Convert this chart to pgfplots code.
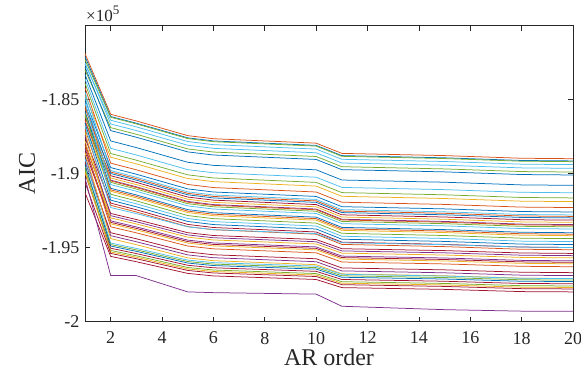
\documentclass[border=0pt]{standalone}
\usepackage{fontspec}
\setmainfont{Liberation Serif}
\usepackage{pgfplots}
\pgfplotsset{compat=1.18}
\definecolor{mB}{RGB}{0,114,189}
\definecolor{mO}{RGB}{217,83,25}
\definecolor{mY}{RGB}{237,177,32}
\definecolor{mP}{RGB}{126,47,142}
\definecolor{mG}{RGB}{119,172,48}
\definecolor{mC}{RGB}{77,190,238}
\definecolor{mR}{RGB}{162,20,47}
\definecolor{axgray}{RGB}{38,38,38}
\begin{document}
\begin{tikzpicture}
\begin{axis}[
  at={(0,0)}, anchor=south west,
  width=488pt, height=296pt, scale only axis,
  xmin=1, xmax=20, ymin=-200000, ymax=-180000,
  xtick={2,4,...,20},
  ytick={-200000,-195000,-190000,-185000},
  scaled y ticks=base 10:-5,
  ytick scale label code/.code={},
  /pgf/number format/assume math mode=true,
  yticklabel style={/pgf/number format/precision=2, xshift=-2pt},
  xticklabel style={yshift=-7pt},
  tick align=inside, tick pos=both,
  xticklabel pos=lower, yticklabel pos=left,
  major tick length=5pt,
  axis line style={axgray, line width=0.6pt},
  every tick/.style={axgray, line width=0.6pt},
  tick label style={font=\fontsize{18}{20}\selectfont, text=axgray},
  label style={font=\fontsize{24}{28}\selectfont, text=axgray},
  xlabel style={yshift=2pt},
  xlabel={AR order}, ylabel={AIC},
  every axis plot/.append style={line width=0.75pt, mark=none},
  clip=true,
]
\addplot[mO] coordinates {(1,-181900)(2,-186000)(3,-186450)(5,-187440)(6,-187650)(10,-187950)(11,-188640)(15,-188790)(18,-188970)(20,-189000)};
\addplot[mB] coordinates {(1,-182100)(2,-186150)(3,-186600)(5,-187590)(6,-187800)(10,-188100)(11,-188790)(15,-188940)(18,-189120)(20,-189150)};
\addplot[mG] coordinates {(1,-182300)(2,-186200)(3,-186650)(5,-187640)(6,-187850)(10,-188150)(11,-188840)(15,-188990)(18,-189170)(20,-189200)};
\addplot[mC] coordinates {(1,-182600)(2,-186400)(3,-186850)(5,-187840)(6,-188050)(10,-188350)(11,-189040)(15,-189190)(18,-189370)(20,-189400)};
\addplot[mC] coordinates {(1,-182500)(2,-186650)(3,-187100)(5,-188090)(6,-188300)(10,-188600)(11,-189290)(15,-189440)(18,-189620)(20,-189650)};
\addplot[mG] coordinates {(1,-183000)(2,-186900)(3,-187350)(5,-188340)(6,-188550)(10,-188850)(11,-189540)(15,-189690)(18,-189870)(20,-189900)};
\addplot[mB] coordinates {(1,-182800)(2,-187100)(3,-187550)(5,-188540)(6,-188750)(10,-189050)(11,-189740)(15,-189890)(18,-190070)(20,-190100)};
\addplot[mB] coordinates {(1,-183300)(2,-187800)(3,-188250)(5,-189240)(6,-189450)(10,-189750)(11,-190440)(15,-190590)(18,-190770)(20,-190800)};
\addplot[mC] coordinates {(1,-183600)(2,-188300)(3,-188750)(5,-189740)(6,-189950)(10,-190250)(11,-190940)(15,-191090)(18,-191270)(20,-191300)};
\addplot[mG] coordinates {(1,-183900)(2,-188650)(3,-189100)(5,-190090)(6,-190300)(10,-190600)(11,-191290)(15,-191440)(18,-191620)(20,-191650)};
\addplot[mY] coordinates {(1,-184700)(2,-188900)(3,-189350)(5,-190340)(6,-190550)(10,-190850)(11,-191540)(15,-191690)(18,-191870)(20,-191900)};
\addplot[mO] coordinates {(1,-184200)(2,-189300)(3,-189750)(5,-190740)(6,-190950)(10,-191250)(11,-191940)(15,-192090)(18,-192270)(20,-192300)};
\addplot[mB] coordinates {(1,-185000)(2,-189600)(3,-190050)(5,-191040)(6,-191250)(10,-191550)(11,-192240)(15,-192390)(18,-192570)(20,-192600)};
\addplot[mC] coordinates {(1,-184500)(2,-189800)(3,-190250)(5,-191240)(6,-191450)(10,-191750)(11,-192440)(15,-192590)(18,-192770)(20,-192800)};
\addplot[mO] coordinates {(1,-185600)(2,-189900)(3,-190350)(5,-191340)(6,-191550)(10,-191850)(11,-192540)(15,-192690)(18,-192870)(20,-192900)};
\addplot[mB] coordinates {(1,-185300)(2,-190000)(3,-190450)(5,-191440)(6,-191650)(10,-191950)(11,-192640)(15,-192790)(18,-192970)(20,-193000)};
\addplot[mR] coordinates {(1,-186200)(2,-190150)(3,-190600)(5,-191590)(6,-191800)(10,-192100)(11,-192790)(15,-192940)(18,-193120)(20,-193150)};
\addplot[mY] coordinates {(1,-185900)(2,-190300)(3,-190750)(5,-191740)(6,-191950)(10,-192250)(11,-192940)(15,-193090)(18,-193270)(20,-193300)};
\addplot[mP] coordinates {(1,-186500)(2,-190450)(3,-190900)(5,-191890)(6,-192100)(10,-192400)(11,-193090)(15,-193240)(18,-193420)(20,-193450)};
\addplot[mO] coordinates {(1,-185400)(2,-190500)(3,-190950)(5,-191940)(6,-192150)(10,-192450)(11,-193140)(15,-193290)(18,-193470)(20,-193500)};
\addplot[mG] coordinates {(1,-186100)(2,-190600)(3,-191050)(5,-192040)(6,-192250)(10,-192550)(11,-193240)(15,-193390)(18,-193570)(20,-193600)};
\addplot[mC] coordinates {(1,-184800)(2,-190750)(3,-191200)(5,-192190)(6,-192400)(10,-192700)(11,-193390)(15,-193540)(18,-193720)(20,-193750)};
\addplot[mB] coordinates {(1,-185800)(2,-191000)(3,-191450)(5,-192440)(6,-192650)(10,-192950)(11,-193640)(15,-193790)(18,-193970)(20,-194000)};
\addplot[mO] coordinates {(1,-186400)(2,-191100)(3,-191550)(5,-192540)(6,-192750)(10,-193050)(11,-193740)(15,-193890)(18,-194070)(20,-194100)};
\addplot[mY] coordinates {(1,-186700)(2,-191200)(3,-191650)(5,-192640)(6,-192850)(10,-193150)(11,-193840)(15,-193990)(18,-194170)(20,-194200)};
\addplot[mG] coordinates {(1,-186000)(2,-191400)(3,-191850)(5,-192840)(6,-193050)(10,-193350)(11,-194040)(15,-194190)(18,-194370)(20,-194400)};
\addplot[mC] coordinates {(1,-185200)(2,-191600)(3,-192050)(5,-193040)(6,-193250)(10,-193550)(11,-194240)(15,-194390)(18,-194570)(20,-194600)};
\addplot[mB] coordinates {(1,-186600)(2,-191800)(3,-192250)(5,-193240)(6,-193450)(10,-193750)(11,-194440)(15,-194590)(18,-194770)(20,-194800)};
\addplot[mR] coordinates {(1,-187600)(2,-192000)(3,-192450)(5,-193440)(6,-193650)(10,-193950)(11,-194640)(15,-194790)(18,-194970)(20,-195000)};
\addplot[mO] coordinates {(1,-187000)(2,-192150)(3,-192600)(5,-193590)(6,-193800)(10,-194100)(11,-194790)(15,-194940)(18,-195120)(20,-195150)};
\addplot[mC] coordinates {(1,-186800)(2,-192300)(3,-192710)(5,-193600)(6,-193790)(10,-194060)(11,-194680)(15,-194810)(18,-194970)(20,-195000)};
\addplot[mR] coordinates {(1,-188000)(2,-192700)(3,-193110)(5,-194000)(6,-194190)(10,-194460)(11,-195080)(15,-195210)(18,-195370)(20,-195400)};
\addplot[mP] coordinates {(1,-187400)(2,-192850)(3,-193260)(5,-194150)(6,-194340)(10,-194610)(11,-195230)(15,-195360)(18,-195520)(20,-195550)};
\addplot[mY] coordinates {(1,-187800)(2,-193000)(3,-193410)(5,-194300)(6,-194490)(10,-194760)(11,-195380)(15,-195510)(18,-195670)(20,-195700)};
\addplot[mP] coordinates {(1,-188300)(2,-193200)(3,-193610)(5,-194500)(6,-194690)(10,-194960)(11,-195580)(15,-195710)(18,-195870)(20,-195900)};
\addplot[mR] coordinates {(1,-188500)(2,-193300)(3,-193710)(5,-194600)(6,-194790)(10,-195060)(11,-195680)(15,-195810)(18,-195970)(20,-196000)};
\addplot[mY] coordinates {(1,-187200)(2,-193400)(3,-193810)(5,-194700)(6,-194890)(10,-195160)(11,-195780)(15,-195910)(18,-196070)(20,-196100)};
\addplot[mO] coordinates {(1,-188100)(2,-193600)(3,-194010)(5,-194900)(6,-195090)(10,-195360)(11,-195980)(15,-196110)(18,-196270)(20,-196300)};
\addplot[mR] coordinates {(1,-189200)(2,-194000)(3,-194410)(5,-195300)(6,-195490)(10,-195760)(11,-196380)(15,-196510)(18,-196670)(20,-196700)};
\addplot[mP] coordinates {(1,-188800)(2,-194200)(3,-194610)(5,-195500)(6,-195690)(10,-195960)(11,-196580)(15,-196710)(18,-196870)(20,-196900)};
\addplot[mY] coordinates {(1,-188600)(2,-194400)(3,-194810)(5,-195700)(6,-195890)(10,-196160)(11,-196780)(15,-196910)(18,-197070)(20,-197100)};
\addplot[mC] coordinates {(1,-189000)(2,-194700)(3,-195060)(5,-195850)(6,-196020)(10,-196260)(11,-196810)(15,-196930)(18,-197080)(20,-197100)};
\addplot[mG] coordinates {(1,-189500)(2,-194800)(3,-195160)(5,-195950)(6,-196120)(10,-196360)(11,-196910)(15,-197030)(18,-197180)(20,-197200)};
\addplot[mB] coordinates {(1,-189400)(2,-194900)(3,-195260)(5,-196050)(6,-196220)(10,-196460)(11,-197010)(15,-197130)(18,-197280)(20,-197300)};
\addplot[mR] coordinates {(1,-190000)(2,-195050)(3,-195410)(5,-196200)(6,-196370)(10,-196610)(11,-197160)(15,-197280)(18,-197430)(20,-197450)};
\addplot[mG] coordinates {(1,-189700)(2,-195200)(3,-195560)(5,-196350)(6,-196520)(10,-196760)(11,-197310)(15,-197430)(18,-197580)(20,-197600)};
\addplot[mY] coordinates {(1,-189900)(2,-195300)(3,-195660)(5,-196450)(6,-196620)(10,-196860)(11,-197410)(15,-197530)(18,-197680)(20,-197700)};
\addplot[mR] coordinates {(1,-190600)(2,-195400)(3,-195760)(5,-196550)(6,-196720)(10,-196960)(11,-197510)(15,-197630)(18,-197780)(20,-197800)};
\addplot[mR] coordinates {(1,-191300)(2,-195600)(3,-195960)(5,-196750)(6,-196920)(10,-197160)(11,-197710)(15,-197830)(18,-197980)(20,-198000)};
\addplot[mP] coordinates {(1,-190300)(2,-196900)(3,-196900)(5,-198000)(6,-198050)(10,-198150)(11,-198970)(15,-199200)(18,-199300)(20,-199300)};
\end{axis}
\node[anchor=south west, inner sep=0pt, text=axgray, font=\fontsize{17}{19}\selectfont] at (1pt,300pt) {×10\raisebox{7pt}{\fontsize{13}{14}\selectfont 5}};
\pgfresetboundingbox
\useasboundingbox (-85pt,-59.5pt) rectangle (496pt,321.5pt);
\end{tikzpicture}
\end{document}
